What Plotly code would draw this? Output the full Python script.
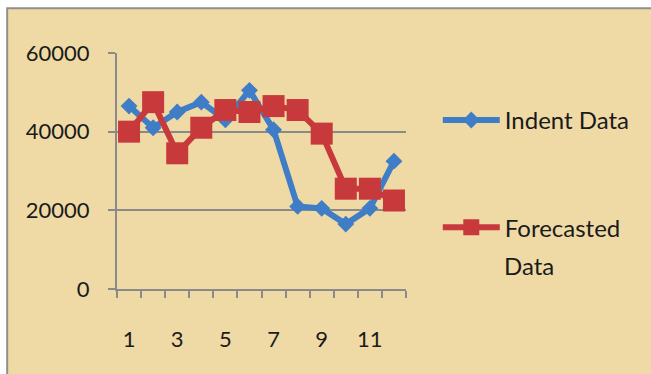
import plotly.graph_objects as go

# Monthly figures, periods 1-12
periods = list(range(1, 13))
indent_data = [46500, 41000, 45000, 47500, 43000, 50500, 40500, 21000, 20500, 16500, 20500, 32500]
forecast_data = [40000, 47500, 34500, 41000, 45500, 45000, 46500, 45500, 39500, 25500, 25500, 22500]

x_labels = [1, 3, 5, 7, 9, 11]
y_ticks = [0, 20000, 40000, 60000]

BLUE = "#3F7DC6"
RED = "#C7393B"
GRID = "#8A8A8A"
PARCHMENT = "#EFDAA6"
FONT = "Lato"

fig = go.Figure()

fig.add_trace(go.Scatter(
    x=periods, y=indent_data, name="Indent Data", mode="lines+markers",
    legendgroup="indent",
    line=dict(color=BLUE, width=6),
    marker=dict(symbol="diamond", size=13, color=BLUE),
))
fig.add_trace(go.Scatter(
    x=periods, y=forecast_data, name="Forecasted", mode="lines+markers",
    legendgroup="forecast",
    line=dict(color=RED, width=6),
    marker=dict(symbol="square", size=22, color=RED),
))

# parchment panel with a thin grey frame (left and top edges visible)
fig.add_shape(
    type="rect", xref="paper", yref="paper",
    x0=-0.38, x1=2.2, y0=-0.6, y1=1.19,
    fillcolor=PARCHMENT, line=dict(color="#8F8F8F", width=2),
    layer="below",
)

# second line of the forecast legend label
fig.add_annotation(
    text="Data", xref="paper", yref="paper",
    x=1.333, y=0.10, xanchor="left", yanchor="middle",
    showarrow=False, font=dict(size=24, family=FONT, color="#1A1A1A"),
)

fig.update_layout(
    width=651, height=374,
    margin=dict(l=117, r=245, t=53, b=85),
    paper_bgcolor="white",
    plot_bgcolor="white",
    font=dict(family=FONT, color="#1A1A1A", size=22),
    showlegend=True,
    legend=dict(
        x=1.11, y=0.81, xanchor="left", yanchor="top",
        bgcolor="rgba(0,0,0,0)",
        font=dict(size=24, family=FONT),
        itemwidth=57,
        tracegroupgap=73,
        traceorder="grouped",
    ),
)

fig.update_xaxes(
    range=[0.5, 12.5],
    tickvals=x_labels, ticktext=[str(v) for v in x_labels],
    ticks="", ticklabelstandoff=30,
    showline=True, linecolor=GRID, linewidth=2,
    showgrid=False, zeroline=False,
    minor=dict(tick0=0.5, dtick=1, ticks="outside", ticklen=7,
               tickcolor=GRID, tickwidth=2, showgrid=False),
    tickfont=dict(size=22),
)

fig.update_yaxes(
    range=[0, 60000], tickvals=y_ticks, ticktext=[str(v) for v in y_ticks],
    ticks="outside", ticklen=7, tickcolor=GRID, tickwidth=2,
    ticklabelstandoff=14,
    showline=True, linecolor=GRID, linewidth=2,
    showgrid=True, gridcolor=GRID, gridwidth=2,
    zeroline=False,
    tickfont=dict(size=22),
)

fig.write_html("out.html")
